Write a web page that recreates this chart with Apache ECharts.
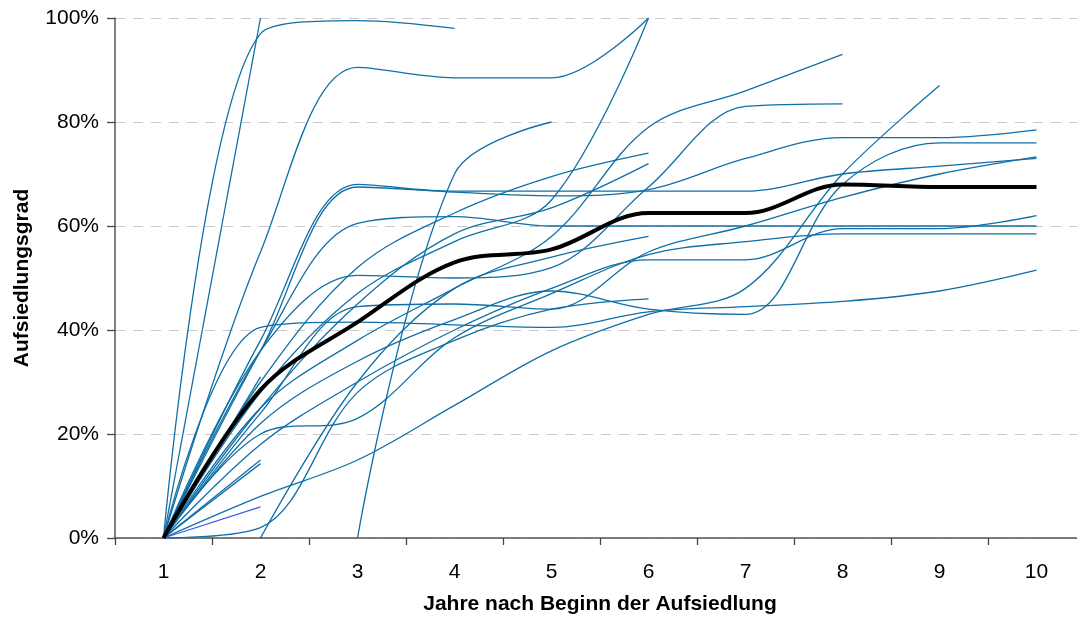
<!DOCTYPE html>
<html>
<head>
<meta charset="utf-8">
<script src="https://cdn.jsdelivr.net/npm/echarts@6/dist/echarts.min.js"></script>
<style>
  html, body { margin: 0; padding: 0; background: #fff; }
  #chart { width: 1077px; height: 619px; }
</style>
</head>
<body>
<div id="chart"></div>
<script>
// Jahre nach Beginn der Aufsiedlung (Kategorien)
const years = ['1', '2', '3', '4', '5', '6', '7', '8', '9', '10'];

// Aufsiedlungsgrad einzelner Baugebiete in % (null = keine Angabe)
const gebiet01 = [0, 100];
const gebiet02 = [0, 97, 99.5, 98];
const gebiet03 = [0, 55, 90.5, 88.5, 88.5, 100];
const gebiet04 = [0, 28, 47, 57, 65, 100];
const gebiet05 = [null, null, 0, 70, 80];
const gebiet06 = [0, 38, 68, 66.7, 66.7, 66.7, 66.7, 70, 71.5, 73];
const gebiet07 = [0, 36, 67.5, 66.5, 65.8, 67, 73, 77, 77, 78.5];
const gebiet08 = [0, 24, 44.5, 45, 44, 55, 60, 65.5, 70, 73.3];
const gebiet09 = [0, 25, 38, 48, 58, 79, 86, 93];
const gebiet10 = [0, 36, 50.5, 50, 52, 67.5, 83, 83.5];
const gebiet11 = [0, 8, 15, 25.5, 36, 43, 48, 70, 87];
const gebiet12 = [0, 18, 30, 40, 48, 53.5, 53.5, 59.5, 59.5, 62];
const gebiet13 = [0, 36, 60.5, 61.8, 60, 60, 60, 60, 60, 60];
const gebiet14 = [0, 20, 23, 38.5, 47, 54.5, 57, 58.5, 58.5, 58.5];
const gebiet15 = [0, 40.5, 41.5, 41, 40.5, 43.5, 44.5, 45.5, 47.5, 51.5];
const gebiet16 = [0, 30, 52, 62.5, 69.5, 74];
const gebiet17 = [0, 25, 45, 58.5, 63.5, 72];
const gebiet18 = [0, 22, 34, 42, 47.5, 44, 43, 68, 76, 76];
const gebiet19 = [0, 2, 28, 38, 44, 46];
const gebiet20 = [null, 0, 30, 48, 54, 58];
const gebiet21 = [0, 31];
const gebiet22 = [0, 15];
const gebiet23 = [0, 14.3];
const gebiet24 = [0, 6];

// Mittelwert über alle Gebiete
const mittelwert = [0, 28.5, 41.5, 53, 55.5, 62.5, 62.5, 68, 67.5, 67.5];

// Achsenbeschriftung
const yTicks = { min: 0, max: 100, step: 20 };

const blueLines = [
  gebiet01, gebiet02, gebiet03, gebiet04, gebiet05, gebiet06, gebiet07, gebiet08,
  gebiet09, gebiet10, gebiet11, gebiet12, gebiet13, gebiet14, gebiet15, gebiet16,
  gebiet17, gebiet18, gebiet19, gebiet20, gebiet21, gebiet22, gebiet23
];

const BLUE = '#0f6fa6';
const SMOOTH = 0.35;
const font = 'Liberation Sans, Arial, sans-serif';

const series = blueLines.map(function (d, i) {
  return {
    name: 'Gebiet ' + (i + 1),
    type: 'line',
    data: d,
    smooth: SMOOTH,
    symbol: 'none',
    lineStyle: { color: BLUE, width: 1.3 },
    z: 2
  };
});
series.push({
  name: 'Gebiet 24',
  type: 'line',
  data: gebiet24,
  smooth: SMOOTH,
  symbol: 'none',
  lineStyle: { color: '#3b5cf0', width: 1.3 },
  z: 2
});
series.push({
  name: 'Mittelwert',
  type: 'line',
  data: mittelwert,
  smooth: SMOOTH,
  symbol: 'none',
  lineStyle: { color: '#000', width: 4 },
  z: 5
});

const chart = echarts.init(document.getElementById('chart'), null, { renderer: 'canvas' });
chart.setOption({
  animation: false,
  backgroundColor: '#fff',
  grid: {
    left: 115, right: -8, top: 18, bottom: 81,
    containLabel: false,
    outerBoundsMode: 'none'
  },
  xAxis: {
    type: 'category',
    data: years,
    boundaryGap: true,
    name: 'Jahre nach Beginn der Aufsiedlung',
    nameLocation: 'middle',
    nameGap: 56,
    nameTextStyle: { fontFamily: font, fontSize: 21, fontWeight: 'bold', color: '#000' },
    axisLine: { lineStyle: { color: '#555', width: 1.5 } },
    axisTick: { show: true, alignWithLabel: false, length: 7, lineStyle: { color: '#444', width: 1.3 } },
    axisLabel: { fontFamily: font, fontSize: 21, color: '#000', margin: 24 },
    splitLine: { show: false }
  },
  yAxis: {
    type: 'value',
    min: yTicks.min,
    max: yTicks.max,
    interval: yTicks.step,
    name: 'Aufsiedlungsgrad',
    nameLocation: 'middle',
    nameGap: 82,
    nameRotate: 90,
    nameTextStyle: { fontFamily: font, fontSize: 21, fontWeight: 'bold', color: '#000' },
    axisLine: { show: true, lineStyle: { color: '#555', width: 1.5 } },
    axisTick: { show: true, length: 8, lineStyle: { color: '#444', width: 1.3 } },
    axisLabel: { fontFamily: font, fontSize: 21, color: '#000', margin: 16, formatter: '{value}%' },
    splitLine: { show: true, lineStyle: { color: '#c8c8c8', type: [10, 8], width: 1.2 } }
  },
  series: series
});
</script>
</body>
</html>
